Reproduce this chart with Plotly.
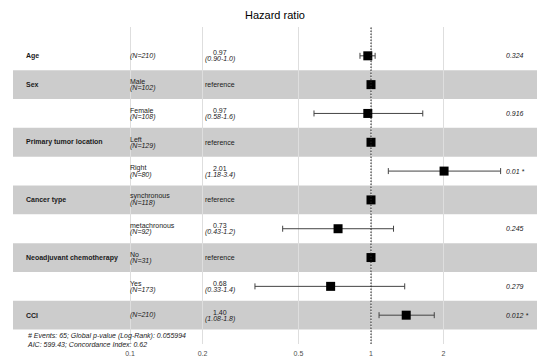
import plotly.graph_objects as go

# ---- data ----
variables = ["Age", "Sex", "", "Primary tumor location", "", "Cancer type", "",
             "Neoadjuvant chemotherapy", "", "CCI"]
levels = ["", "Male", "Female", "Left", "Right", "synchronous", "metachronous",
          "No", "Yes", ""]
n_obs = [210, 102, 108, 129, 80, 118, 92, 31, 173, 210]
hr = [0.97, 1.0, 0.97, 1.0, 2.01, 1.0, 0.73, 1.0, 0.68, 1.40]
ci_low = [0.90, None, 0.58, None, 1.18, None, 0.43, None, 0.33, 1.08]
ci_high = [1.04, None, 1.64, None, 3.45, None, 1.24, None, 1.38, 1.83]
hr_text = ["0.97", "reference", "0.97", "reference", "2.01", "reference",
           "0.73", "reference", "0.68", "1.40"]
ci_text = ["(0.90-1.0)", "", "(0.58-1.6)", "", "(1.18-3.4)", "",
           "(0.43-1.2)", "", "(0.33-1.4)", "(1.08-1.8)"]
p_text = ["0.324", "", "0.916", "", "0.01 *", "", "0.245", "", "0.279", "0.012 *"]
tick_vals = [0.1, 0.2, 0.5, 1, 2]
tick_labels = ["0.1", "0.2", "0.5", "1", "2"]
footer = ["# Events: 65; Global p-value (Log-Rank): 0.055994",
          "AIC: 599.43; Concordance Index: 0.62"]
title = "Hazard ratio"

rows = list(range(1, len(variables) + 1))
FONT = "Liberation Sans, Arial, sans-serif"
FS = 7
TXT = "#1a1a1a"

err_plus = [(h - x) if h is not None else None for h, x in zip(ci_high, hr)]
err_minus = [(x - l) if l is not None else None for l, x in zip(ci_low, hr)]

fig = go.Figure()

# alternating background bands
for r in rows:
    if r % 2 == 0:
        fig.add_shape(type="rect", xref="paper", yref="y", x0=0, x1=1,
                      y0=r - 0.5, y1=r + 0.5, fillcolor="rgba(0,0,0,0.2)",
                      line_width=0, layer="between")

# reference line at HR = 1
fig.add_shape(type="line", xref="x", yref="paper", x0=1, x1=1, y0=0, y1=1,
              line=dict(color="#222222", width=1, dash="1.5px,1.5px"), layer="above")

fig.add_trace(go.Scatter(
    x=hr, y=rows, mode="markers",
    marker=dict(symbol="square", size=9, color="black"),
    error_x=dict(type="data", symmetric=False, array=err_plus,
                 arrayminus=err_minus, color="#444444", thickness=1, width=3),
    hoverinfo="skip", showlegend=False, cliponaxis=False,
))

ann = []
for r, v, lv, n, ht, ct, pt in zip(rows, variables, levels, n_obs, hr_text,
                                   ci_text, p_text):
    if v:
        ann.append(dict(x=0.021, y=r, xref="paper", yref="y", text=f"<b>{v}</b>",
                        xanchor="left", yanchor="middle", showarrow=False,
                        font=dict(size=FS, color=TXT, family=FONT)))
    if lv:
        ann.append(dict(x=0.2195, y=r, xref="paper", yref="y", text=lv,
                        xanchor="left", yanchor="bottom", yshift=-2.5, showarrow=False,
                        font=dict(size=FS, color=TXT, family=FONT)))
        ann.append(dict(x=0.2195, y=r, xref="paper", yref="y", text=f"<i>(N={n})</i>",
                        xanchor="left", yanchor="top", yshift=2.5, showarrow=False,
                        font=dict(size=FS, color=TXT, family=FONT)))
    else:
        ann.append(dict(x=0.2195, y=r, xref="paper", yref="y", text=f"<i>(N={n})</i>",
                        xanchor="left", yanchor="middle", showarrow=False,
                        font=dict(size=FS, color=TXT, family=FONT)))
    if ct:
        ann.append(dict(x=0.395, y=r, xref="paper", yref="y", text=ht,
                        xanchor="center", yanchor="bottom", yshift=-2.5, showarrow=False,
                        font=dict(size=FS, color=TXT, family=FONT)))
        ann.append(dict(x=0.395, y=r, xref="paper", yref="y", text=f"<i>{ct}</i>",
                        xanchor="center", yanchor="top", yshift=2.5, showarrow=False,
                        font=dict(size=FS, color=TXT, family=FONT)))
    else:
        ann.append(dict(x=0.395, y=r, xref="paper", yref="y", text=ht,
                        xanchor="center", yanchor="middle", showarrow=False,
                        font=dict(size=FS, color=TXT, family=FONT)))
    if pt:
        ann.append(dict(x=0.937, y=r, xref="paper", yref="y", text=f"<i>{pt}</i>",
                        xanchor="left", yanchor="middle", showarrow=False,
                        font=dict(size=FS, color=TXT, family=FONT)))

ann.append(dict(x=0.023, y=rows[-1] + 0.5, xref="paper", yref="y",
                text="<i>" + "<br>".join(footer) + "</i>",
                xanchor="left", yanchor="top", align="left", showarrow=False,
                font=dict(size=FS, color=TXT, family=FONT)))

fig.update_layout(
    width=550, height=363,
    margin=dict(l=5, r=21, t=19, b=27),
    paper_bgcolor="white", plot_bgcolor="white",
    title=dict(text=title, x=0.5, xref="paper", xanchor="center",
               y=1 - 7 / 363, yanchor="middle",
               font=dict(size=11, color="black", family=FONT)),
    xaxis=dict(type="log", range=[-1.4855, 0.6888], tickvals=tick_vals,
               ticktext=tick_labels, showgrid=True, gridcolor="#DEDEDE",
               gridwidth=1, zeroline=False, showline=False, ticks="",
               ticklabelstandoff=4,
               tickfont=dict(size=7, color="#4D4D4D", family=FONT)),
    yaxis=dict(range=[11, 0], showgrid=False, zeroline=False,
               showticklabels=False, showline=False, ticks=""),
    annotations=ann,
    showlegend=False,
)

fig.write_html("out.html")
